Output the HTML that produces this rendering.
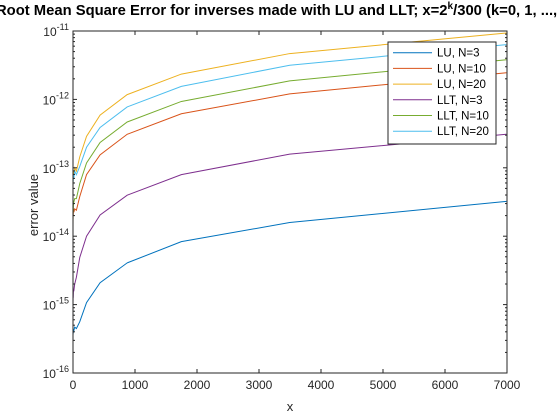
<!DOCTYPE html>
<html><head><meta charset="utf-8"><style>
body{margin:0;background:#fff;}
svg{display:block;font-family:"Liberation Sans",Arial,sans-serif;}
</style></head><body>
<svg id="c" width="560" height="420">
<rect x="0" y="0" width="560" height="420" fill="#fff"/>
<rect x="73" y="31" width="434" height="342" fill="#fff"/>
<g id="series"></g>
<g id="axes"></g>
<text x="-4" y="15" text-anchor="start" font-size="14.8" font-weight="bold" fill="#000">Root Mean Square Error for inverses made with LU and LLT; x=2<tspan dy="-6" font-size="10">k</tspan><tspan dy="6">/300 (k=0, 1, ..., 21)</tspan></text>
<text x="290" y="411" text-anchor="middle" font-size="13" fill="#262626">x</text>
<text transform="translate(38,205) rotate(-90)" text-anchor="middle" font-size="13" fill="#262626">error value</text>
<g id="legend"></g>
</svg>
<script>
const kValues=[0,1,2,3,4,5,6,7,8,9,10,11,12,13,14,15,16,17,18,19,20,21];
const seriesNames=["LU, N=3","LU, N=10","LU, N=20","LLT, N=3","LLT, N=10","LLT, N=20"];
const luN3=[-15.6,-15.5,-15.54,-15.45,-15.5,-15.42,-15.47,-15.4,-15.44,-15.38,-15.42,-15.36,-15.38,-15.33,-15.35,-15.25,-14.97,-14.68,-14.39,-14.08,-13.80,-13.49];
const luN10=[-14.1,-13.9,-14.0,-13.8,-13.9,-13.75,-13.85,-13.7,-13.75,-13.65,-13.7,-13.6,-13.65,-13.6,-13.62,-13.42,-13.10,-12.81,-12.51,-12.21,-11.92,-11.61];
const luN20=[-13.9,-13.6,-13.7,-13.5,-13.4,-13.3,-13.4,-13.2,-13.25,-13.1,-13.15,-13.05,-13.1,-13.0,-13.05,-12.84,-12.54,-12.23,-11.93,-11.63,-11.33,-11.03];
const lltN3=[-15.35,-15.2,-15.3,-15.1,-15.2,-15.0,-15.05,-14.9,-14.95,-14.85,-14.9,-14.8,-14.8,-14.7,-14.6,-14.31,-14.0,-13.69,-13.40,-13.10,-12.80,-12.51];
const lltN10=[-14.35,-14.0,-14.2,-13.9,-14.0,-13.8,-13.85,-13.7,-13.75,-13.6,-13.65,-13.55,-13.5,-13.45,-13.45,-13.23,-12.93,-12.63,-12.33,-12.03,-11.73,-11.42];
const lltN20=[-13.7,-13.3,-13.5,-13.2,-13.4,-13.1,-13.3,-13.15,-13.25,-13.1,-13.2,-13.1,-13.15,-13.05,-13.1,-12.98,-12.70,-12.41,-12.11,-11.81,-11.50,-11.20];
const colors=["#0072BD","#D95319","#EDB120","#7E2F8E","#77AC30","#4DBEEE"];
const xTicks=[0,1000,2000,3000,4000,5000,6000,7000];
const yDecades=[-16,-15,-14,-13,-12,-11];
const allSeries=[luN3,luN10,luN20,lltN3,lltN10,lltN20];
const NS="http://www.w3.org/2000/svg";
const L=73,R=507,T=31,B=373;
const xs=v=>L+(v/7000)*(R-L);
const ys=lg=>B-(lg+16)/5*(B-T);
function mk(t,a,p){const e=document.createElementNS(NS,t);for(const k in a)e.setAttribute(k,a[k]);p.appendChild(e);return e;}
const sg=document.getElementById('series');
allSeries.forEach((s,i)=>{
  const pts=s.map((v,j)=>xs(Math.pow(2,kValues[j])/300).toFixed(2)+","+ys(v).toFixed(2)).join(" ");
  const pl=mk('polyline',{points:pts,fill:'none',stroke:colors[i],'stroke-width':1},sg);
  
  
});
const ax=document.getElementById('axes');
mk('rect',{x:L,y:T,width:R-L,height:B-T,fill:'none',stroke:'#262626','stroke-width':1},ax);
xTicks.forEach(v=>{
  const x=xs(v);
  mk('line',{x1:x,y1:B,x2:x,y2:B-4,stroke:'#262626'},ax);
  mk('line',{x1:x,y1:T,x2:x,y2:T+4,stroke:'#262626'},ax);
  const t=mk('text',{x:x,y:B+16,'text-anchor':'middle','font-size':12,fill:'#262626'},ax);
  t.textContent=v;
  
  
});
yDecades.forEach(d=>{
  const y=ys(d);
  mk('line',{x1:L,y1:y,x2:L+4,y2:y,stroke:'#262626'},ax);
  mk('line',{x1:R,y1:y,x2:R-4,y2:y,stroke:'#262626'},ax);
  const t=mk('text',{x:L-4,y:y+5,'text-anchor':'end','font-size':12,fill:'#262626'},ax);
  t.innerHTML='10<tspan dy="-6" font-size="9">'+d+'</tspan>';
  
  
  if(d<-11){for(let m=2;m<10;m++){const yy=ys(d+Math.log10(m));
    mk('line',{x1:L,y1:yy,x2:L+2,y2:yy,stroke:'#262626'},ax);
    mk('line',{x1:R,y1:yy,x2:R-2,y2:yy,stroke:'#262626'},ax);}}
});
const lg=document.getElementById('legend');
mk('rect',{x:388,y:42,width:108,height:102,fill:'#fff',stroke:'#262626'},lg);
seriesNames.forEach((n,i)=>{
  const y=52.7+i*15.7;
  const ln=mk('line',{x1:393,y1:y,x2:432,y2:y,stroke:colors[i]},lg);
  
  
  const t=mk('text',{x:437,y:y+4,'font-size':11.5,fill:'#000'},lg);
  t.textContent=n;
  
  
});
</script>
</body></html>
